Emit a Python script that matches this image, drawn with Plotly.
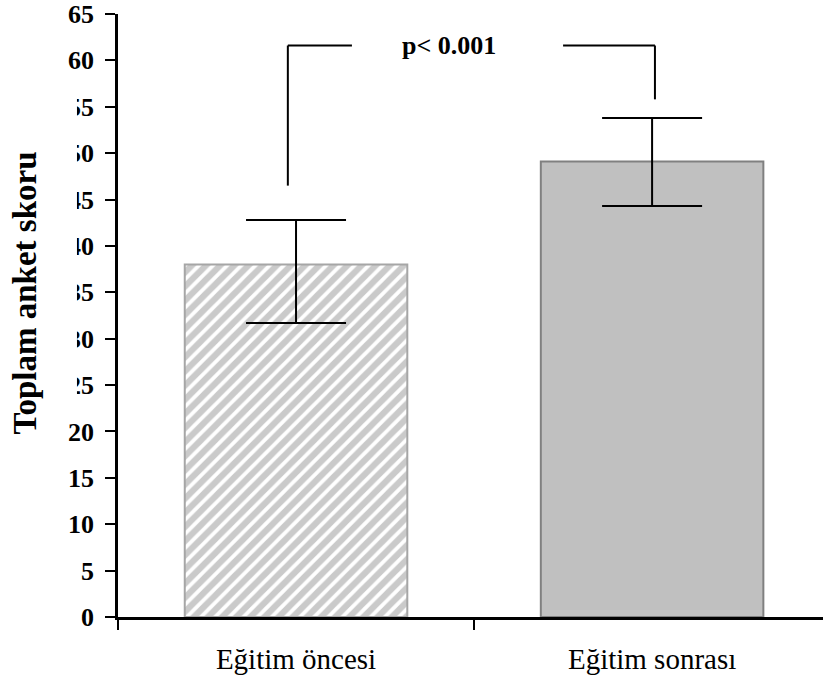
import plotly.graph_objects as go

# Survey totals before / after training
categories = ["Eğitim öncesi", "Eğitim sonrası"]
mean_scores = [38.0, 49.1]
err_plus = [4.8, 4.7]
err_minus = [6.3, 4.8]

y_tick_vals = list(range(0, 70, 5))
y_tick_text = [str(v) for v in y_tick_vals]

# significance bracket: level, left drop end, right drop end (score units)
bracket_level = 61.6
bracket_left_end = 46.5
bracket_right_end = 55.8
p_label = "p< 0.001"

fig = go.Figure()

fig.add_trace(go.Bar(
    x=[categories[0]], y=[mean_scores[0]], width=0.625,
    marker=dict(
        color="white",
        line=dict(color="#a6a6a6", width=2),
        pattern=dict(shape="/", size=10, solidity=0.62,
                     fgcolor="#969696", bgcolor="white"),
    ),
    error_y=dict(type="data", symmetric=False,
                 array=[err_plus[0]], arrayminus=[err_minus[0]],
                 color="black", thickness=2, width=50),
    showlegend=False,
))
fig.add_trace(go.Bar(
    x=[categories[1]], y=[mean_scores[1]], width=0.625,
    marker=dict(color="#c0c0c0", line=dict(color="#808080", width=2)),
    error_y=dict(type="data", symmetric=False,
                 array=[err_plus[1]], arrayminus=[err_minus[1]],
                 color="black", thickness=2, width=50),
    showlegend=False,
))

line_style = dict(color="black", width=2)
# left arm of the bracket
fig.add_shape(type="line", xref="x", yref="y", x0=-0.023, x1=-0.023,
              y0=bracket_left_end, y1=bracket_level, line=line_style)
fig.add_shape(type="line", xref="x", yref="y", x0=-0.023, x1=0.157,
              y0=bracket_level, y1=bracket_level, line=line_style)
# right arm of the bracket
fig.add_shape(type="line", xref="x", yref="y", x0=0.75, x1=1.008,
              y0=bracket_level, y1=bracket_level, line=line_style)
fig.add_shape(type="line", xref="x", yref="y", x0=1.008, x1=1.008,
              y0=bracket_right_end, y1=bracket_level, line=line_style)

fig.add_annotation(x=0.43, y=bracket_level, xref="x", yref="y",
                   text=p_label, showarrow=False, xanchor="center", yanchor="middle",
                   font=dict(family="Liberation Serif", size=26, color="black", weight="bold"))

# white box behind the axis title
fig.add_shape(type="rect", xref="paper", yref="paper",
              x0=-0.1674, x1=-0.0582, y0=0.340, y1=0.888,
              fillcolor="white", line=dict(width=0), layer="above")

fig.add_annotation(x=-0.1319, y=0.5365, xref="paper", yref="paper",
                   text="Toplam anket skoru", textangle=-90, showarrow=False,
                   xanchor="center", yanchor="middle",
                   font=dict(family="Liberation Serif", size=33, color="black", weight="bold"))

fig.update_layout(
    width=823, height=683,
    margin=dict(l=118, r=0, t=14, b=66),
    paper_bgcolor="white", plot_bgcolor="white",
    bargap=0.375,
    xaxis=dict(
        type="category", categoryorder="array", categoryarray=categories,
        range=[-0.5, 1.48], tickson="boundaries",
        showline=True, linecolor="black", linewidth=2.5,
        ticks="outside", ticklen=10, tickwidth=1.5, tickcolor="black",
        showgrid=False, zeroline=False,
        tickfont=dict(family="Liberation Serif", size=29, color="black"),
        ticklabelstandoff=14,
    ),
    yaxis=dict(
        range=[0, 65], tickvals=y_tick_vals, ticktext=y_tick_text,
        showline=True, linecolor="black", linewidth=2.5,
        ticks="outside", ticklen=10, tickwidth=1.5, tickcolor="black",
        showgrid=False, zeroline=False,
        tickfont=dict(family="Liberation Serif", size=26, color="black", weight="bold"),
        ticklabelstandoff=6,
    ),
)

fig.write_html("out.html")
